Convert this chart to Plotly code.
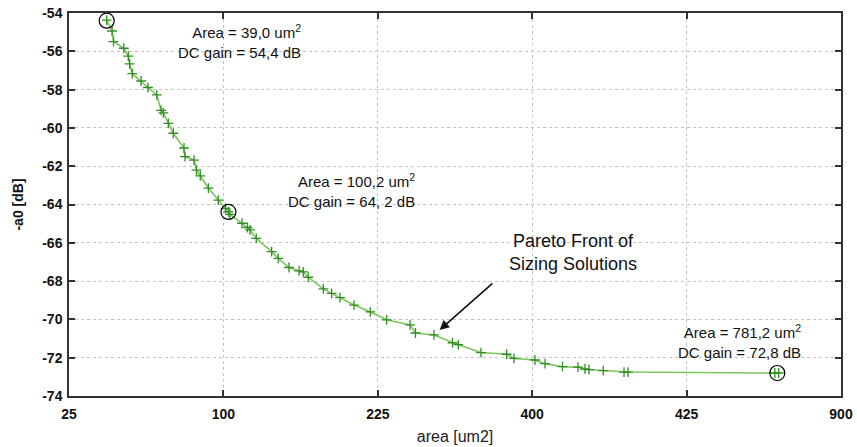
import numpy as np
import plotly.graph_objects as go

# Pareto front data: area [um^2] and -a0 [dB]
area = [38.7, 40.9, 41.5, 45.9, 47.9, 48.5, 49.7, 53.8, 57.1, 61.5,
        63.7, 64.9, 67.5, 70.2, 76.1, 76.7, 81.9, 83.3, 85.6, 90.5,
        96.7, 101.4, 103.3, 104.3, 112.4, 116.2, 118.0, 122.4, 133.7, 138.7,
        147.0, 155.0, 158.4, 162.5, 175.2, 182.4, 189.8, 202.5, 217.8, 233.7,
        257.4, 263.1, 282.9, 303.4, 310.0, 336.4, 367.6, 376.8, 403.6, 416.8,
        440.2, 461.5, 471.3, 476.9, 497.4, 527.8, 533.7, 776.0, 783.0]
neg_a0 = [-54.37, -54.94, -55.49, -55.84, -56.25, -56.66, -57.17, -57.55, -57.89, -58.28,
          -59.09, -59.22, -59.76, -60.28, -61.05, -61.50, -61.68, -62.20, -62.51, -63.14,
          -63.77, -64.21, -64.39, -64.52, -64.98, -65.20, -65.33, -65.77, -66.46, -66.81,
          -67.29, -67.47, -67.52, -67.80, -68.41, -68.64, -68.86, -69.25, -69.61, -70.02,
          -70.29, -70.71, -70.81, -71.22, -71.32, -71.73, -71.82, -72.04, -72.12, -72.31,
          -72.47, -72.49, -72.59, -72.62, -72.67, -72.75, -72.75, -72.80, -72.80]

# Highlighted solutions
hl_area = [38.7, 103.3, 780.5]
hl_gain = [-54.4, -64.39, -72.8]
hl_labels = ["Area = 39,0 um<sup>2</sup><br>DC gain = 54,4 dB",
             "Area = 100,2 um<sup>2</sup><br>DC gain = 64, 2 dB",
             "Area = 781,2 um<sup>2</sup><br>DC gain = 72,8 dB"]
# label anchor positions (area, dB): right edge, vertical centre
lab_area = [158.0, 264.7, 827.7]
lab_gain = [-55.51, -63.27, -71.13]

# Axis ticks (axis drawn on sqrt(area) scale)
x_tick_area = [25, 100, 225, 400, 625, 900]
x_tick_text = ["25", "100", "225", "400", "425", "900"]
y_ticks = [-74, -72, -70, -68, -66, -64, -62, -60, -58, -56, -54]

sx = lambda a: np.sqrt(np.asarray(a, dtype=float))

FONT = "Liberation Sans, Arial, Helvetica, sans-serif"

fig = go.Figure()
fig.add_trace(go.Scatter(
    x=sx(area), y=neg_a0, mode="lines+markers",
    line=dict(color="#7cc45c", width=1.6),
    marker=dict(symbol="cross-thin", size=7, color="#2f8f22",
                line=dict(color="#2f8f22", width=1.3)),
    showlegend=False, hoverinfo="skip"))
fig.add_trace(go.Scatter(
    x=sx(hl_area), y=hl_gain, mode="markers",
    marker=dict(symbol="circle-open", size=15, color="black",
                line=dict(color="black", width=1.2)),
    showlegend=False, hoverinfo="skip"))

for a, g, t in zip(lab_area, lab_gain, hl_labels):
    fig.add_annotation(x=float(np.sqrt(a)), y=g, text=t, showarrow=False,
                       xanchor="right", yanchor="middle", align="right",
                       font=dict(family=FONT, size=15, color="#111"))

fig.add_annotation(x=float(np.sqrt(289.0)), y=-70.55, ax=float(np.sqrt(352.0)), ay=-68.05,
                   axref="x", ayref="y", xref="x", yref="y",
                   text="", showarrow=True, arrowhead=2, arrowsize=1.2,
                   arrowwidth=1.6, arrowcolor="#111")
fig.add_annotation(x=float(np.sqrt(454.5)), y=-66.51,
                   text="Pareto Front of<br>Sizing Solutions", showarrow=False,
                   xanchor="center", yanchor="middle", align="center",
                   font=dict(family=FONT, size=18, color="#111"))

axis_common = dict(
    showline=True, linecolor="#333", linewidth=1.5, mirror="ticks",
    ticks="inside", ticklen=6, tickwidth=1.5, tickcolor="#333",
    showgrid=True, gridcolor="#c4c4c4", griddash="dot", gridwidth=1,
    zeroline=False, automargin=False, ticklabeloverflow="allow",
    tickfont=dict(family=FONT, size=14, color="#111"),
)

fig.update_xaxes(**axis_common, range=[5, 30],
                 tickmode="array", tickvals=list(sx(x_tick_area)),
                 ticktext=["<b>%s</b>" % t for t in x_tick_text],
                 ticklabelstandoff=4,
                 title=dict(text="area [um2]", standoff=10,
                            font=dict(family=FONT, size=16, color="#222")))
fig.update_yaxes(**axis_common, range=[-74, -54],
                 tickmode="array", tickvals=y_ticks,
                 ticktext=["<b>%d</b>" % v for v in y_ticks],
                 ticklabelstandoff=2,
                 title=dict(text="<b>-a0 [dB]</b>", standoff=15,
                            font=dict(family=FONT, size=14, color="#111")))

fig.update_layout(
    width=857, height=447,
    margin=dict(l=69, r=16, t=13, b=51),
    paper_bgcolor="white", plot_bgcolor="white",
    font=dict(family=FONT),
)

# remove the default page margin so the figure fills the window exactly
fig.write_html("out.html", config={"displayModeBar": False},
               post_script="document.body.style.margin='0';")
